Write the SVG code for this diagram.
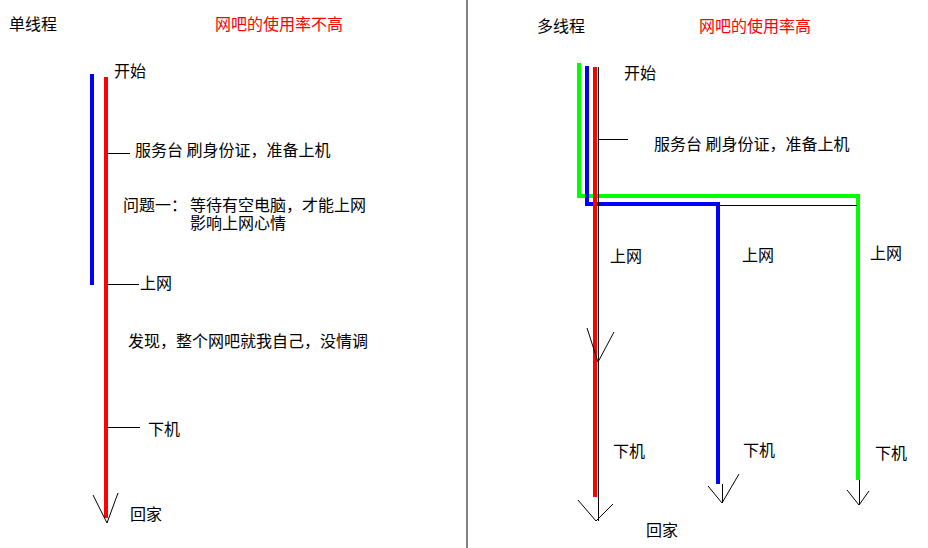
<svg xmlns="http://www.w3.org/2000/svg" width="928" height="548" viewBox="0 0 928 548">
<style>
text{font-family:"Noto Sans CJK SC","Noto Sans",sans-serif;font-size:16px;fill:#000}
.red-t{fill:#ff0000}
.thin{stroke:#000;stroke-width:1;fill:none}
.r{stroke:#ff0000;stroke-width:4;fill:none}
.b{stroke:#0000ff;stroke-width:4;fill:none}
.g{stroke:#00ff00;stroke-width:4;fill:none}
</style>
<rect width="928" height="548" fill="#fff"/>
<g id="divider"><line class="thin" x1="467" y1="0" x2="467" y2="548"/></g>
<g id="titles">
<text x="9" y="30">单线程</text>
<text class="red-t" x="215" y="30">网吧的使用率不高</text>
<text x="537" y="32">多线程</text>
<text class="red-t" x="699" y="32">网吧的使用率高</text>
</g>
<g id="connectors">
<!-- left -->
<line class="b" x1="92" y1="74" x2="92" y2="285"/>
<line class="r" x1="106" y1="77" x2="106" y2="518"/>
<line class="thin" x1="107" y1="153.5" x2="130" y2="153.5"/>
<line class="thin" x1="107" y1="284.5" x2="139" y2="284.5"/>
<line class="thin" x1="107" y1="427.5" x2="140" y2="427.5"/>
<polyline class="thin" points="93,495 107,523 118,493"/>
<!-- right -->
<polyline class="g" points="579,63 579,196 858,196 858,480"/>
<polyline class="b" points="587,66 587,204 718,204 718,484"/>
<line class="r" x1="595" y1="67" x2="595" y2="497"/>
<line class="thin" x1="598.5" y1="67" x2="598.5" y2="521"/>
<line class="thin" x1="598" y1="139.5" x2="628" y2="139.5"/>
<line class="thin" x1="720" y1="205.5" x2="857" y2="205.5"/>
<polyline class="thin" points="587,328 598,362 614,332"/>
<polyline class="thin" points="578,500 596,521 613,504"/>
<line class="thin" x1="722.5" y1="484" x2="722.5" y2="503"/>
<polyline class="thin" points="708,486 722,503 739,474"/>
<line class="thin" x1="859.5" y1="480" x2="859.5" y2="505"/>
<polyline class="thin" points="847,490 859,505 869,491"/>
</g>
<g id="left-labels">
<text x="114" y="77">开始</text>
<text x="135" y="156">服务台 刷身份证，准备上机</text>
<text y="211"><tspan x="123">问题一：</tspan><tspan x="190">等待有空电脑，才能上网</tspan></text>
<text x="190" y="229">影响上网心情</text>
<text x="140" y="289">上网</text>
<text x="128" y="347">发现，整个网吧就我自己，没情调</text>
<text x="148" y="435">下机</text>
<text x="130" y="520">回家</text>
</g>
<g id="right-labels">
<text x="624" y="79">开始</text>
<text x="654" y="150">服务台 刷身份证，准备上机</text>
<text x="610" y="262">上网</text>
<text x="742" y="261">上网</text>
<text x="870" y="259">上网</text>
<text x="613" y="457">下机</text>
<text x="743" y="456">下机</text>
<text x="875" y="459">下机</text>
<text x="646" y="536">回家</text>
</g>
</svg>
